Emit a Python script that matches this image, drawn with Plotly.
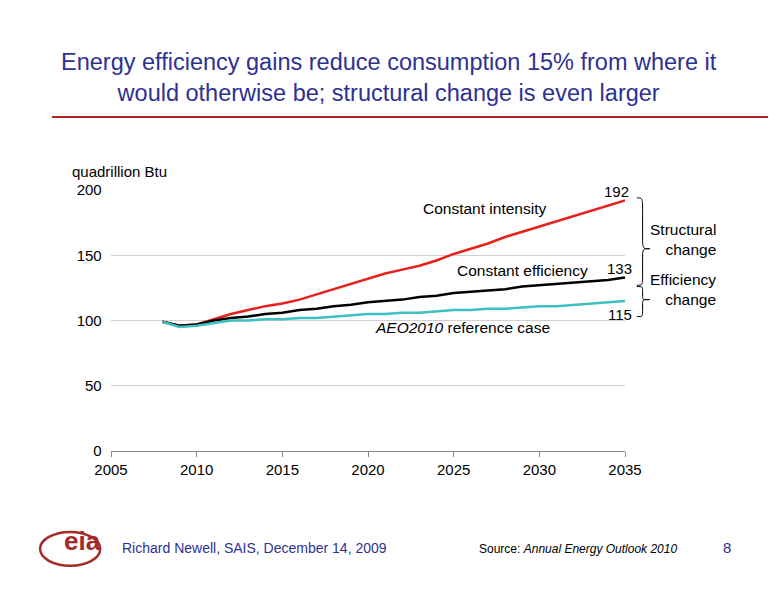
import plotly.graph_objects as go

years = list(range(2008, 2036))
constant_intensity = [99, 96, 97, 101, 105, 108, 111, 113, 116, 120, 124, 128, 132, 136, 139, 142, 146, 151, 155, 159, 164, 168, 172, 176, 180, 184, 188, 192]
constant_efficiency = [99, 96, 97, 100, 102, 103, 105, 106, 108, 109, 111, 112, 114, 115, 116, 118, 119, 121, 122, 123, 124, 126, 127, 128, 129, 130, 131, 133]
reference_case = [99, 95, 96, 98, 100, 100, 101, 101, 102, 102, 103, 104, 105, 105, 106, 106, 107, 108, 108, 109, 109, 110, 111, 111, 112, 113, 114, 115]

fig = go.Figure()
fig.add_trace(go.Scatter(x=years, y=constant_intensity, mode="lines", line=dict(color="#E8211D", width=2.5)))
fig.add_trace(go.Scatter(x=years, y=constant_efficiency, mode="lines", line=dict(color="#000000", width=2.5)))
fig.add_trace(go.Scatter(x=years, y=reference_case, mode="lines", line=dict(color="#3CC0C0", width=2.5)))

def py(v):
    return v / 200

def brace(x, y0, ym, y1, w=0.025):
    q = w * 0.45
    return (f"M {x},{y1} C {x+q},{y1} {x+q},{y1} {x+q},{y1-(y1-ym)*0.3} "
            f"L {x+q},{ym+(y1-ym)*0.25} C {x+q},{ym} {x+q},{ym} {x+w},{ym} "
            f"C {x+q},{ym} {x+q},{ym} {x+q},{ym-(ym-y0)*0.25} "
            f"L {x+q},{y0+(ym-y0)*0.3} C {x+q},{y0} {x+q},{y0} {x},{y0}")

shapes = [
    dict(type="path", xref="paper", yref="paper", path=brace(1.023, py(127), py(155), py(194)), line=dict(color="black", width=1)),
    dict(type="path", xref="paper", yref="paper", path=brace(1.023, py(103), py(116), py(126)), line=dict(color="black", width=1)),
    dict(type="line", xref="paper", yref="paper", x0=-0.115, x1=1.28, y0=1.28, y1=1.28, line=dict(color="#B22222", width=2)),
    dict(type="circle", xref="paper", yref="paper", x0=-0.138, x1=-0.021, y0=-0.44, y1=-0.31, line=dict(color="#A52A2A", width=2.5)),
]

ann = [
    dict(x=2034.5, y=192, text="192", showarrow=False, yshift=-2, xanchor="center", yanchor="bottom"),
    dict(x=2034.7, y=133, text="133", showarrow=False, yshift=-2, xanchor="center", yanchor="bottom"),
    dict(x=2034.7, y=115, text="115", showarrow=False, yshift=-3, xanchor="center", yanchor="top"),
    dict(x=2026.8, y=186, text="Constant intensity", showarrow=False, font=dict(size=15.5)),
    dict(x=2029, y=138, text="Constant efficiency", showarrow=False, font=dict(size=15.5)),
    dict(x=2025.5, y=95, text="<i>AEO2010</i> reference case", showarrow=False, font=dict(size=15.5)),
    dict(xref="paper", yref="paper", x=1.113, y=0.812, text="Structural<br>change", showarrow=False, xanchor="center", yanchor="middle", align="right", font=dict(size=15.5)),
    dict(xref="paper", yref="paper", x=1.113, y=0.62, text="Efficiency<br>change", showarrow=False, xanchor="center", yanchor="middle", align="right", font=dict(size=15.5)),
    dict(xref="paper", yref="paper", x=0.541, y=1.43, text="Energy efficiency gains reduce consumption 15% from where it<br>would otherwise be; structural change is even larger",
         showarrow=False, font=dict(size=23.5, color="#2E3192"), xanchor="center", yanchor="middle"),
    dict(xref="paper", yref="paper", x=-0.08, y=1.11, text="quadrillion Btu", showarrow=False, xanchor="left", font=dict(size=15)),
    dict(xref="paper", yref="paper", x=-0.095, y=-0.41, text="<b>eia</b>", showarrow=False, font=dict(size=26, color="#A52A2A")),
    dict(xref="paper", yref="paper", x=0.017, y=-0.41, text="Richard Newell, SAIS, December 14, 2009", showarrow=False, xanchor="left", font=dict(size=14, color="#2E3192")),
    dict(xref="paper", yref="paper", x=0.909, y=-0.41, text="Source: <i>Annual Energy Outlook 2010</i>", showarrow=False, xanchor="center", font=dict(size=12, color="black")),
    dict(xref="paper", yref="paper", x=1.21, y=-0.41, text="8", showarrow=False, font=dict(size=15, color="#2E3192")),
]

fig.update_layout(
    width=776, height=600, margin=dict(l=103, r=159, t=182, b=157),
    paper_bgcolor="white", plot_bgcolor="white", showlegend=False,
    font=dict(family="Liberation Sans, Arial", size=15, color="black"),
    shapes=shapes, annotations=ann,
    xaxis=dict(range=[2005, 2035], dtick=5, tick0=2005, showgrid=False, showline=True, linecolor="#888",
               ticks="outside", ticklen=5, tickcolor="#888", zeroline=False),
    yaxis=dict(range=[0, 200], dtick=50, showgrid=True, gridcolor="#D0D0D0", zeroline=False, ticks="", showline=False,
               ticksuffix="  "),
)
fig.write_html("out.html")
